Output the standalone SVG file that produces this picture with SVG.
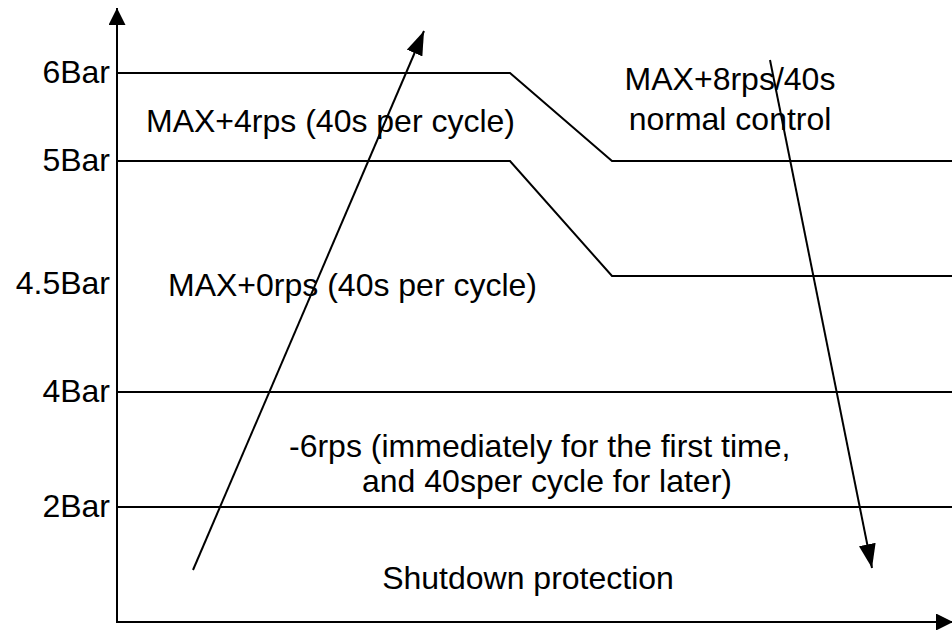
<svg xmlns="http://www.w3.org/2000/svg" width="952" height="630" viewBox="0 0 952 630">
<style>
.t{font-family:"Liberation Sans",Arial,sans-serif;font-size:32px;fill:#000}
.l{fill:none;stroke:#000;stroke-width:2}
</style>
<defs>
<marker id="head" markerUnits="userSpaceOnUse" markerWidth="24" markerHeight="17" viewBox="0 0 24 17" refX="24" refY="8.5" orient="auto"><path d="M0,0 L24,8.5 L0,17 Z" fill="#000"/></marker>
<marker id="axhead" markerUnits="userSpaceOnUse" markerWidth="17" markerHeight="17" viewBox="0 0 17 17" refX="17" refY="8.5" orient="auto"><path d="M0,0 L17,8.5 L0,17 Z" fill="#000"/></marker>
</defs>
<rect width="952" height="630" fill="#fff"/>
<g id="levels">
<polyline class="l" points="117,73 510,73 612,161 952,161"/>
<polyline class="l" points="117,161 510,161 612,276 952,276"/>
<line class="l" x1="117" y1="392" x2="952" y2="392"/>
<line class="l" x1="117" y1="507" x2="952" y2="507"/>
</g>
<g id="axes">
<line class="l" x1="117" y1="623" x2="117" y2="8" marker-end="url(#axhead)"/>
<line class="l" x1="117" y1="622" x2="953" y2="622" marker-end="url(#axhead)"/>
</g>
<g id="labels">
<text class="t" x="110" y="83" text-anchor="end">6Bar</text>
<text class="t" x="110" y="171" text-anchor="end">5Bar</text>
<text class="t" x="110" y="294" text-anchor="end">4.5Bar</text>
<text class="t" x="110" y="402" text-anchor="end">4Bar</text>
<text class="t" x="110" y="517" text-anchor="end">2Bar</text>
</g>
<g id="zone-max4"><text class="t" x="146" y="132">MAX+4rps (40s per cycle)</text></g>
<g id="zone-max0"><text class="t" x="168" y="296">MAX+0rps (40s per cycle)</text></g>
<g id="zone-normal">
<text class="t" x="730" y="90" text-anchor="middle">MAX+8rps/40s</text>
<text class="t" x="730" y="130" text-anchor="middle">normal control</text>
</g>
<g id="zone-minus6">
<text class="t" x="289" y="457">-6rps (immediately for the first time,</text>
<text class="t" x="362" y="492">and 40sper cycle for later)</text>
</g>
<g id="zone-shutdown"><text class="t" x="528" y="589" text-anchor="middle">Shutdown protection</text></g>
<g id="connectors">
<line class="l" x1="193" y1="570" x2="424" y2="31" marker-end="url(#head)"/>
<line class="l" x1="770" y1="60" x2="872" y2="568" marker-end="url(#head)"/>
</g>
</svg>
